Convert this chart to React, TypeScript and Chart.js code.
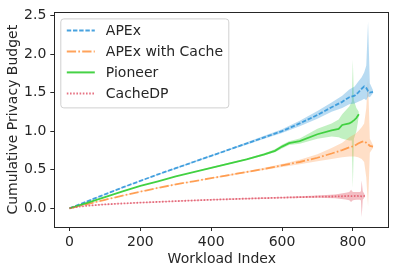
import React, { useEffect, useRef } from "react";
import { Chart, registerables } from "chart.js";

Chart.register(...registerables);

// ---- data ----
const apexX = [0, 50, 100, 150, 200, 250, 300, 350, 400, 450, 500, 550, 600, 650, 700, 740, 770, 790, 805, 815, 825, 832, 838, 843, 848, 857];
const apexY = [0, 0.09, 0.18, 0.27, 0.355, 0.44, 0.52, 0.6, 0.68, 0.76, 0.84, 0.92, 1.0, 1.1, 1.21, 1.31, 1.38, 1.44, 1.46, 1.5, 1.55, 1.58, 1.56, 1.52, 1.5, 1.51];
const apexHi = [0, 0.095, 0.185, 0.275, 0.36, 0.445, 0.53, 0.61, 0.69, 0.77, 0.855, 0.94, 1.025, 1.135, 1.26, 1.37, 1.46, 1.54, 1.58, 1.64, 1.7, 1.76, 1.85, 2.42, 1.62, 1.53];
const apexLo = [0, 0.085, 0.175, 0.265, 0.35, 0.435, 0.51, 0.59, 0.67, 0.75, 0.825, 0.9, 0.975, 1.065, 1.16, 1.25, 1.3, 1.35, 1.36, 1.38, 1.4, 1.42, 1.4, 1.45, 1.44, 1.49];

const cacheX = [0, 50, 100, 150, 200, 250, 300, 350, 400, 450, 500, 550, 600, 650, 700, 740, 770, 790, 805, 815, 825, 832, 838, 843, 848, 857];
const cacheY = [0, 0.055, 0.11, 0.165, 0.215, 0.265, 0.31, 0.35, 0.39, 0.43, 0.47, 0.51, 0.555, 0.6, 0.655, 0.71, 0.755, 0.79, 0.81, 0.84, 0.86, 0.87, 0.85, 0.83, 0.81, 0.8];
const cacheHi = [0, 0.06, 0.115, 0.17, 0.22, 0.27, 0.315, 0.355, 0.395, 0.44, 0.48, 0.525, 0.575, 0.63, 0.7, 0.78, 0.85, 0.92, 0.96, 1.0, 1.05, 1.1, 1.3, 1.68, 0.9, 0.82];
const cacheLo = [0, 0.05, 0.105, 0.16, 0.21, 0.26, 0.305, 0.345, 0.385, 0.42, 0.46, 0.495, 0.535, 0.57, 0.61, 0.64, 0.66, 0.67, 0.67, 0.66, 0.64, 0.6, 0.4, 0.02, 0.72, 0.78];

const pioneerX = [0, 50, 100, 150, 200, 250, 300, 350, 400, 450, 500, 550, 580, 600, 620, 650, 700, 740, 760, 770, 790, 797, 800, 803, 810, 817];
const pioneerY = [0, 0.07, 0.145, 0.22, 0.29, 0.35, 0.415, 0.47, 0.525, 0.58, 0.635, 0.7, 0.745, 0.8, 0.845, 0.87, 0.96, 1.01, 1.03, 1.08, 1.1, 1.12, 1.13, 1.14, 1.17, 1.22];
const pioneerHi = [0, 0.075, 0.15, 0.225, 0.295, 0.355, 0.42, 0.475, 0.535, 0.59, 0.645, 0.715, 0.765, 0.825, 0.87, 0.905, 1.03, 1.1, 1.15, 1.22, 1.32, 1.38, 1.93, 1.4, 1.3, 1.25];
const pioneerLo = [0, 0.065, 0.14, 0.215, 0.285, 0.345, 0.41, 0.465, 0.515, 0.57, 0.625, 0.685, 0.725, 0.775, 0.82, 0.835, 0.9, 0.93, 0.92, 0.9, 0.88, 0.88, 0.26, 0.9, 1.0, 1.19];

const cachedpX = [0, 25, 50, 100, 150, 200, 300, 400, 500, 600, 700, 750, 780, 790, 795, 800, 810, 820, 823, 825, 828, 834];
const cachedpY = [0, 0.02, 0.033, 0.05, 0.062, 0.073, 0.092, 0.11, 0.125, 0.138, 0.15, 0.153, 0.157, 0.16, 0.158, 0.158, 0.16, 0.158, 0.157, 0.155, 0.158, 0.16];
const cachedpHi = [0, 0.022, 0.036, 0.054, 0.066, 0.077, 0.097, 0.116, 0.132, 0.147, 0.165, 0.18, 0.2, 0.21, 0.24, 0.21, 0.21, 0.21, 0.22, 0.36, 0.22, 0.175];
const cachedpLo = [0, 0.018, 0.03, 0.046, 0.058, 0.069, 0.087, 0.104, 0.118, 0.129, 0.136, 0.13, 0.115, 0.105, 0.08, 0.105, 0.11, 0.11, 0.1, -0.115, 0.11, 0.145];

const seriesNames = ["APEx", "APEx with Cache", "Pioneer", "CacheDP"];
const xTicks = [0, 200, 400, 600, 800];
const yTicks = [0, 0.5, 1.0, 1.5, 2.0, 2.5];

const FONT = "'DejaVu Sans', sans-serif";
const FS = 14;

const series = [
  { name: seriesNames[0], xs: apexX, ys: apexY, hi: apexHi, lo: apexLo, line: "rgba(52,152,219,0.9)", band: "rgba(52,152,219,0.35)", dash: [4.4, 1.8] },
  { name: seriesNames[1], xs: cacheX, ys: cacheY, hi: cacheHi, lo: cacheLo, line: "rgba(255,140,50,0.8)", band: "rgba(255,150,70,0.3)", dash: [9.3, 2.2, 1.7, 2.2] },
  { name: seriesNames[2], xs: pioneerX, ys: pioneerY, hi: pioneerHi, lo: pioneerLo, line: "rgba(50,205,50,0.9)", band: "rgba(50,205,50,0.3)", dash: [] as number[] },
  { name: seriesNames[3], xs: cachedpX, ys: cachedpY, hi: cachedpHi, lo: cachedpLo, line: "rgba(224,80,100,0.8)", band: "rgba(224,90,106,0.4)", dash: [1.6, 1.6] },
];

const pts = (xs: number[], ys: number[]) => xs.map((x, i) => ({ x, y: ys[i] }));

const framePlugin = {
  id: "frame",
  afterDraw(chart: any) {
    const { ctx, chartArea: a } = chart;
    ctx.save();
    ctx.strokeStyle = "#262626";
    ctx.lineWidth = 1;
    ctx.strokeRect(Math.round(a.left) + 0.5, Math.round(a.top) + 0.5, Math.round(a.right - a.left) - 1, Math.round(a.bottom - a.top));
    ctx.restore();
  },
};

const legendPlugin = {
  id: "mplLegend",
  afterDraw(chart: any) {
    const ctx = chart.ctx;
    const a = chart.chartArea;
    const bx = a.left + 6.5, by = a.top + 6.5, bw = 168, bh = 89;
    ctx.save();
    ctx.beginPath();
    (ctx as any).roundRect(bx, by, bw, bh, 3);
    ctx.fillStyle = "rgba(255,255,255,0.8)";
    ctx.fill();
    ctx.strokeStyle = "#d0d0d0";
    ctx.lineWidth = 1;
    ctx.stroke();
    ctx.font = `${FS}px ${FONT}`;
    ctx.textBaseline = "middle";
    series.forEach((s, i) => {
      const y = by + 11.5 + i * 21;
      ctx.beginPath();
      ctx.setLineDash(s.dash);
      ctx.strokeStyle = s.line;
      ctx.lineWidth = 2;
      ctx.moveTo(bx + 6, y);
      ctx.lineTo(bx + 34, y);
      ctx.stroke();
      ctx.setLineDash([]);
      ctx.fillStyle = "#262626";
      ctx.fillText(s.name, bx + 45, y + 0.5);
    });
    ctx.restore();
  },
};

export default function App() {
  const ref = useRef<HTMLCanvasElement>(null);
  useEffect(() => {
    document.body.style.margin = "0";
    const datasets: any[] = [];
    series.forEach((s, i) => {
      datasets.push({
        label: s.name + " lo",
        data: pts(s.xs, s.lo),
        borderWidth: 0,
        pointRadius: 0,
        fill: false,
        order: 10 + i,
      });
      datasets.push({
        label: s.name + " hi",
        data: pts(s.xs, s.hi),
        borderWidth: 0,
        pointRadius: 0,
        backgroundColor: s.band,
        fill: "-1",
        order: 10 + i,
      });
    });
    series.forEach((s, i) => {
      datasets.push({
        label: s.name,
        data: pts(s.xs, s.ys),
        borderColor: s.line,
        borderWidth: 1.8,
        borderDash: s.dash,
        pointRadius: 0,
        fill: false,
        tension: 0,
        order: 4 - i,
      });
    });
    const chart = new Chart(ref.current!, {
      type: "line",
      data: { datasets },
      options: {
        animation: false,
        responsive: false,
        devicePixelRatio: 1,
        layout: { padding: { top: 9.5, right: 6.7, left: 0, bottom: 0 } },
        plugins: { legend: { display: false }, tooltip: { enabled: false } },
        scales: {
          x: {
            type: "linear",
            min: -43,
            max: 903,
            afterFit: (s: any) => { s.height = 46; },
            afterBuildTicks: (s: any) => { s.ticks = xTicks.map((v) => ({ value: v })); },
            ticks: { includeBounds: false, color: "#262626", font: { size: FS, family: FONT }, padding: 3, maxRotation: 0, callback: (v: any) => String(v) },
            grid: { display: true, drawOnChartArea: false, drawTicks: true, tickLength: 4, color: "#262626" },
            border: { display: false },
            title: { display: true, text: "Workload Index", color: "#262626", font: { size: FS, family: FONT }, padding: { top: 0, bottom: 5.3 } },
          },
          y: {
            type: "linear",
            min: -0.243,
            max: 2.54,
            afterFit: (s: any) => { s.width = 54.3; },
            afterBuildTicks: (s: any) => { s.ticks = yTicks.map((v) => ({ value: v })); },
            ticks: { includeBounds: false, color: "#262626", font: { size: FS, family: FONT }, padding: 4, callback: (v: any) => Number(v).toFixed(1) },
            grid: { display: true, drawOnChartArea: false, drawTicks: true, tickLength: 4, color: "#262626" },
            border: { display: false },
            title: { display: true, text: "Cumulative Privacy Budget", color: "#262626", font: { size: FS, family: FONT }, padding: { top: 4.6, bottom: 0 } },
          },
        },
      } as any,
      plugins: [framePlugin, legendPlugin],
    });
    return () => chart.destroy();
  }, []);
  return <canvas ref={ref} width={396} height={273} style={{ display: "block", width: 396, height: 273 }} />;
}
